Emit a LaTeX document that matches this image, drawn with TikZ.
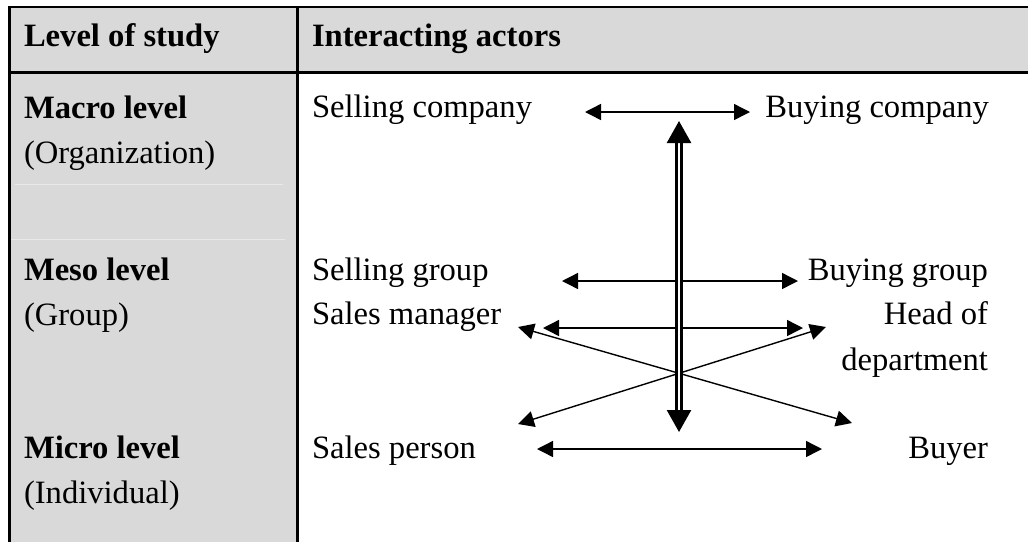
\documentclass[tikz,border=0pt]{standalone}
\usepackage{fontspec}
\setmainfont{Liberation Serif}
\usetikzlibrary{arrows.meta}
\definecolor{cellgray}{HTML}{D9D9D9}
\definecolor{faint}{HTML}{E9E9E9}
\tikzset{
  txt/.style={inner sep=0pt, outer sep=0pt, font=\fontsize{32.6}{40}\selectfont},
  lefttxt/.style={txt, anchor=base west},
  righttxt/.style={txt, anchor=base east},
  rule/.style={line width=2.4pt, black},
  rel/.style={line width=1.4pt, {Triangle[length=16pt,width=16pt]}-{Triangle[length=16pt,width=16pt]}},
  hier/.style={line width=2.6pt, double, double distance=2.3pt,
     {Triangle[length=22pt,width=24pt]}-{Triangle[length=22pt,width=24pt]}}
}
\begin{document}
\begin{tikzpicture}[x=1pt,y=-1pt]
\useasboundingbox (0,0) rectangle (1028,542);
% fills
\fill[cellgray] (9.5,7) rectangle (1028,72.5);
\fill[cellgray] (9.5,72.5) rectangle (297.5,542);
\draw[faint, line width=1pt] (15,184.5) -- (283,184.5);
\draw[faint, line width=1pt] (11,239) -- (285,239);
% rules
\draw[rule] (8.3,7) -- (1028,7);
\draw[rule] (8.3,72.5) -- (1028,72.5);
\draw[rule] (9.5,5.8) -- (9.5,542);
\draw[rule] (297.5,5.8) -- (297.5,542);
% header
\node[lefttxt] (h1) at (24,46) {\textbf{Level of study}};
\node[lefttxt] (h2) at (312,46) {\textbf{Interacting actors}};
% levels
\node[lefttxt] (macro) at (24,118) {\textbf{Macro level}};
\node[lefttxt] (org) at (24,163) {(Organization)};
\node[lefttxt] (meso) at (24,280) {\textbf{Meso level}};
\node[lefttxt] (grp) at (24,325) {(Group)};
\node[lefttxt] (micro) at (24,458) {\textbf{Micro level}};
\node[lefttxt] (ind) at (24,503) {(Individual)};
% actors
\node[lefttxt] (sc) at (312,117) {Selling company};
\node[righttxt] (bc) at (989,117) {Buying company};
\node[lefttxt] (sg) at (312,280) {Selling group};
\node[righttxt] (bg) at (988,280) {Buying group};
\node[lefttxt] (sm) at (312,324) {Sales manager};
\node[righttxt] (hd) at (988,324) {Head of};
\node[righttxt] (dep) at (988,370) {department};
\node[lefttxt] (sp) at (312,458) {Sales person};
\node[righttxt] (by) at (988,458) {Buyer};
% arrow end points
\coordinate (c1a) at (585,112); \coordinate (c1b) at (750,112);
\coordinate (vt) at (679,121); \coordinate (vb) at (679,432);
\coordinate (g1a) at (562,281); \coordinate (g1b) at (798,281);
\coordinate (m1a) at (543,328); \coordinate (m1b) at (803,328);
\coordinate (x1a) at (518,327); \coordinate (x1b) at (852,423);
\coordinate (x2a) at (518,424); \coordinate (x2b) at (826,327);
\coordinate (p1a) at (537,449); \coordinate (p1b) at (822,449);
% arrows
\draw[rel] (c1a) -- (c1b);
\draw[rel] (g1a) -- (g1b);
\draw[rel] (m1a) -- (m1b);
\draw[rel] (x1a) -- (x1b);
\draw[rel] (x2a) -- (x2b);
\draw[rel] (p1a) -- (p1b);
\draw[hier] (vt) -- (vb);
\end{tikzpicture}
\end{document}
